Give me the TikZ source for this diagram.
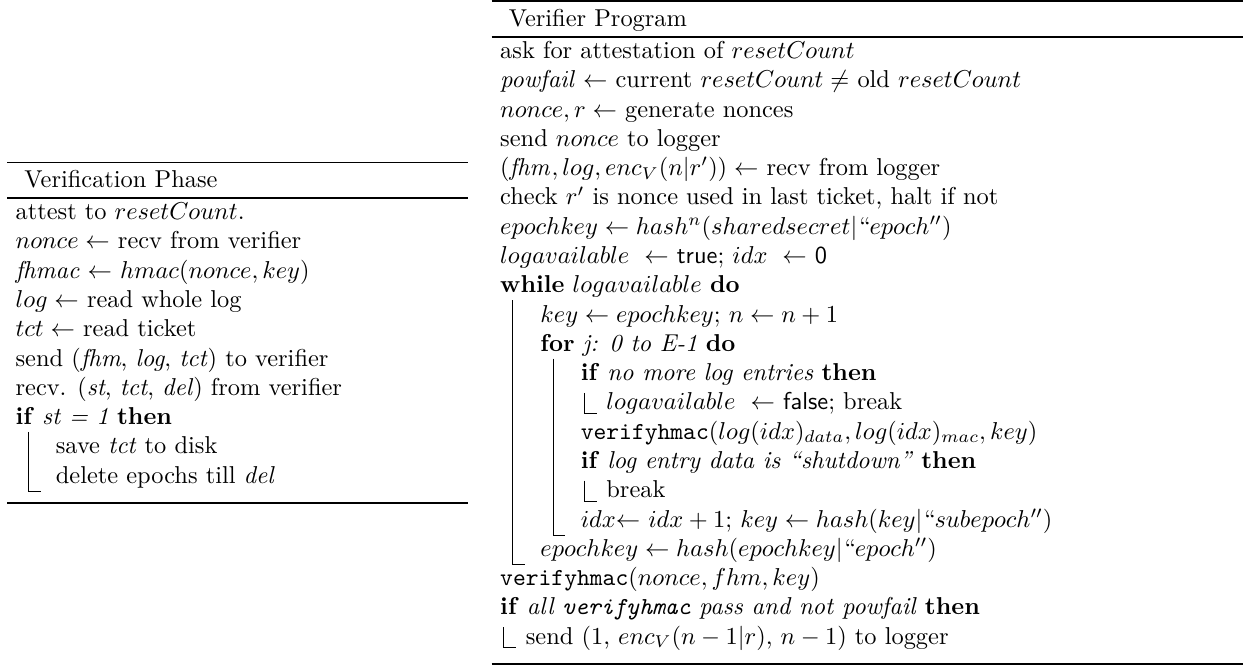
\documentclass[tikz,border=0pt]{standalone}
\begin{document}
\begin{tikzpicture}[x=1pt,y=-1pt,
  txt/.style={anchor=base west,inner sep=0pt,outer sep=0pt,font=\fontsize{10}{12}\selectfont},
  heavyrule/.style={line width=0.8pt},
  titlerule/.style={line width=0.6pt},
  blockbar/.style={line width=0.4pt,line cap=butt}]
\useasboundingbox (0,0) rectangle (509.8,273.8);

% ---------------- left algorithm: Verification Phase ----------------
\coordinate (lTL) at (2.9,66.6);   \coordinate (lTR) at (191.8,66.6);
\coordinate (lHL) at (2.9,81.2);   \coordinate (lHR) at (191.8,81.2);
\coordinate (lBL) at (2.9,206.3);  \coordinate (lBR) at (191.8,206.3);
\draw[heavyrule] (lTL) -- (lTR);
\draw[titlerule] (lHL) -- (lHR);
\draw[heavyrule] (lBL) -- (lBR);
\node[txt] (lcap) at (10,76.8) {Verification Phase};

\node[txt] (l1)  at (6.4,90)  {attest to $resetCount$.};
\node[txt] (l2)  at (6.4,102) {$nonce \leftarrow$ recv from verifier};
\node[txt] (l3)  at (6.4,114) {\textit{fhmac} $\leftarrow$ $hmac(nonce, key)$};
\node[txt] (l4)  at (6.4,126) {$log \leftarrow$ read whole log};
\node[txt] (l5)  at (6.4,138) {$tct \leftarrow$ read ticket};
\node[txt] (l6)  at (6.4,150) {send (\textit{fhm}, \textit{log}, \textit{tct}) to verifier};
\node[txt] (l7)  at (6.4,162) {recv. (\textit{st}, \textit{tct}, \textit{del}) from verifier};
\node[txt] (l8)  at (6.4,174) {\textbf{if} \textit{st = 1} \textbf{then}};
\node[txt] (l9)  at (22.9,186) {save \textit{tct} to disk};
\node[txt] (l10) at (22.9,198) {delete epochs till \textit{del}};
% block of the if
\coordinate (lbT) at (11.6,177); \coordinate (lbF) at (16.6,201.5);
\draw[blockbar] (lbT) |- (lbF);

% ---------------- right algorithm: Verifier Program ----------------
\coordinate (rTL) at (201.5,0.6);   \coordinate (rTR) at (509.5,0.6);
\coordinate (rHL) at (201.5,15.2);  \coordinate (rHR) at (509.5,15.2);
\coordinate (rBL) at (201.5,272.3); \coordinate (rBR) at (509.5,272.3);
\draw[heavyrule] (rTL) -- (rTR);
\draw[titlerule] (rHL) -- (rHR);
\draw[heavyrule] (rBL) -- (rBR);
\node[txt] (rcap) at (208.5,10.8) {Verifier Program};

\node[txt] (r1)  at (205,24)  {ask for attestation of $resetCount$};
\node[txt] (r2)  at (205,36)  {$\mathit{powfail} \leftarrow$ current $resetCount \neq$ old $resetCount$};
\node[txt] (r3)  at (205,48)  {$nonce, r \leftarrow$ generate nonces};
\node[txt] (r4)  at (205,60)  {send $nonce$ to logger};
\node[txt] (r5)  at (205,72)  {$(\mathit{fhm}, log, enc_V(n|r')) \leftarrow$ recv from logger};
\node[txt] (r6)  at (205,84)  {check $r'$ is nonce used in last ticket, halt if not};
\node[txt] (r7)  at (205,96)  {$epochkey \leftarrow hash^n(sharedsecret|``epoch'')$};
\node[txt] (r8)  at (205,108) {$logavailable\ \leftarrow$ \textsf{true}; $idx\ \leftarrow$ \textsf{0}};
\node[txt] (r9)  at (205,120) {\textbf{while} $logavailable$ \textbf{do}};
\node[txt] (r10) at (221.5,132) {$key \leftarrow epochkey$; $n \leftarrow n+1$};
\node[txt] (r11) at (221.5,144) {\textbf{for} \textit{j: 0 to E-1} \textbf{do}};
\node[txt] (r12) at (238,156) {\textbf{if} \textit{no more log entries} \textbf{then}};
\node[txt] (r13) at (248.5,168) {$logavailable\ \leftarrow$ \textsf{false}; break};
\node[txt] (r14) at (238,180) {\texttt{verifyhmac}$(log(idx)_{data}, log(idx)_{mac}, key)$};
\node[txt] (r15) at (238,192) {\textbf{if} \textit{log entry data is ``shutdown''} \textbf{then}};
\node[txt] (r16) at (248.5,204) {break};
\node[txt] (r17) at (238,216) {$idx{\leftarrow}$ $idx+1$; $key \leftarrow hash(key|``subepoch'')$};
\node[txt] (r18) at (221.5,228) {$epochkey \leftarrow hash(epochkey|``epoch'')$};
\node[txt] (r19) at (205,240) {\texttt{verifyhmac}$(nonce, fhm, key)$};
\node[txt] (r20) at (205,252) {\textbf{if} \textit{all \texttt{verifyhmac} pass and not powfail} \textbf{then}};
\node[txt] (r21) at (215.5,264) {send $(1$, $enc_V(n-1|r)$, $n-1)$ to logger};

% block bars: while, for, and the one-line bodies
\coordinate (wT) at (210.2,123); \coordinate (wF) at (215.2,231.5);
\draw[blockbar] (wT) |- (wF);
\coordinate (fT) at (226.7,147); \coordinate (fF) at (231.7,219.5);
\draw[blockbar] (fT) |- (fF);
\coordinate (aT) at (239.5,161); \coordinate (aF) at (244.5,169.5);
\draw[blockbar] (aT) |- (aF);
\coordinate (bT) at (239.5,197); \coordinate (bF) at (244.5,205.5);
\draw[blockbar] (bT) |- (bF);
\coordinate (cT) at (206.5,257); \coordinate (cF) at (211.5,265.5);
\draw[blockbar] (cT) |- (cF);
\end{tikzpicture}
\end{document}
